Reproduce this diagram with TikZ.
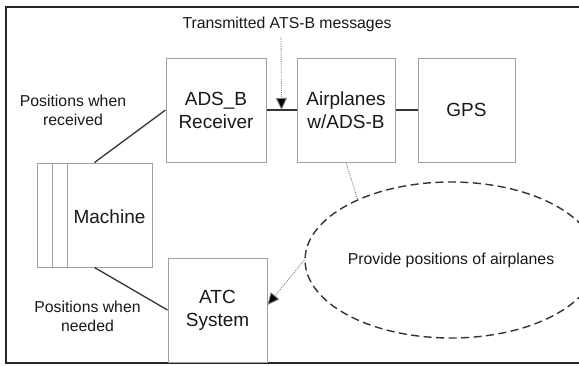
\documentclass[tikz,border=0pt]{standalone}
\usepackage{fontspec}
\setmainfont{Liberation Sans}
\usetikzlibrary{shapes.geometric,arrows.meta,calc}
\definecolor{boxgray}{HTML}{A0A0A0}
\definecolor{linedark}{HTML}{333333}
\definecolor{dotgray}{HTML}{808080}
\begin{document}
\begin{tikzpicture}[x=1pt,y=-1pt,
  blockbox/.style={draw=boxgray,line width=1pt,inner sep=0pt,align=center,
    font=\fontsize{19}{23}\selectfont,text=black!90},
  smalltext/.style={inner sep=0pt,align=center,font=\fontsize{15.8}{19}\selectfont,text=black!90},
  conn/.style={draw=linedark,line width=1.3pt},
  dotconn/.style={draw=dotgray,line width=0.9pt,dash pattern=on 1pt off 1.2pt},
  headtip/.style={-{Triangle[length=12pt,width=11pt,fill=black]}}
]
\useasboundingbox (0,0) rectangle (579,365);
\fill[white] (0,0) rectangle (579,365);
% frame
\draw[draw=black!85,line width=2pt] (579,7) -- (6,7) -- (6,363) -- (579,363);

% nodes
\node[blockbox,minimum width=100pt,minimum height=104pt] (rec) at (216,110) {ADS\_B\\Receiver};
\node[blockbox,minimum width=98pt,minimum height=104pt] (air) at (346,110) {Airplanes\\w/ADS-B};
\node[blockbox,minimum width=97pt,minimum height=104pt] (gps) at (466.5,110) {GPS};
\node[draw=boxgray,line width=1pt,minimum width=115pt,minimum height=104pt,inner sep=0pt] (mach) at (94.5,215) {};
\draw[boxgray,line width=1pt] (52,163) -- (52,267) (67,163) -- (67,267);
\node[smalltext,font=\fontsize{19}{23}\selectfont] (machtxt) at (109.5,217) {Machine};
\node[blockbox,minimum width=99pt,minimum height=104pt] (atc) at (217.5,310) {ATC\\System};
\node[ellipse,draw=linedark,line width=1.4pt,dash pattern=on 8pt off 4.5pt,
  minimum width=256pt,minimum height=156pt,inner sep=0pt,smalltext] (ell) at (451,260) {Provide positions of airplanes};

% labels
\node[smalltext] (msg) at (287,24) {Transmitted ATS-B messages};
\node[smalltext] (lblrec) at (73,110) {Positions when\\received};
\node[smalltext] (lblneed) at (87.5,316) {Positions when\\needed};

% connectors
\draw[conn] (rec.east) -- (air.west);
\draw[conn] (air.east) -- (gps.west);
\draw[conn] (mach.north) -- (rec.west);
\draw[conn] (mach.south) -- (atc.west);
\coordinate (tgt) at ($(rec.east)!0.5!(air.west)$);
\coordinate (tstart) at (281,37);
\draw[dotconn,headtip] (tstart) -- (tgt);
\draw[dotconn] (air.south) -- (ell.147);
\draw[dotconn,headtip] (ell.west) -- ($(atc.east)+(0,-5)$);
\end{tikzpicture}
\end{document}
